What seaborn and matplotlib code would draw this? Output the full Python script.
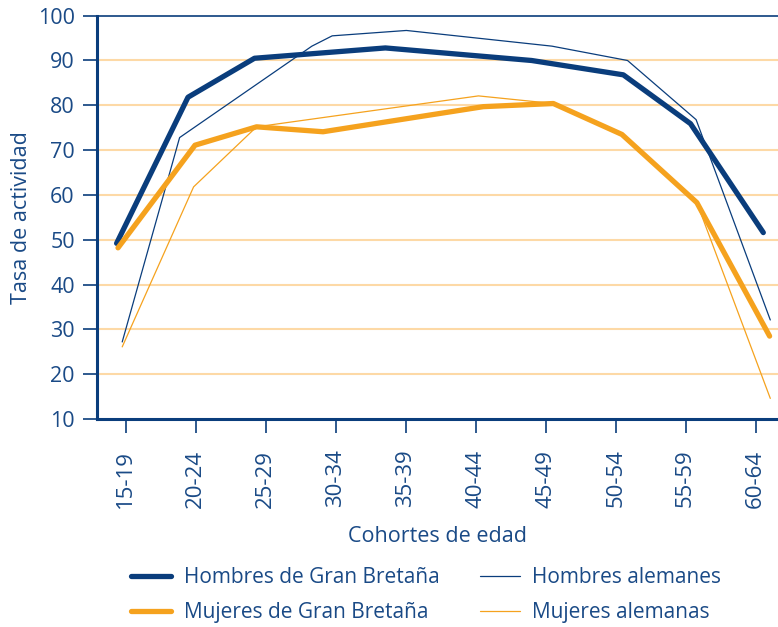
import matplotlib
matplotlib.use("Agg")
import matplotlib.pyplot as plt
import seaborn as sns
import pandas as pd

# cohort labels on the x axis
cohortes = ["15-19", "20-24", "25-29", "30-34", "35-39",
            "40-44", "45-49", "50-54", "55-59", "60-64"]

# each series was drawn at its own (slightly shifted) position along the cohort axis,
# positions are in cohort units (0 = 15-19)
hombres_gb_x = [-0.13, 0.89, 1.84, 3.71, 5.80, 7.11, 8.07, 9.11]
hombres_gb_y = [49.2, 81.8, 90.5, 92.8, 90.0, 86.8, 75.9, 51.6]

hombres_de_x = [-0.05, 0.77, 2.66, 2.95, 4.01, 6.09, 7.17, 8.15, 9.21]
hombres_de_y = [27.2, 72.8, 93.2, 95.5, 96.7, 93.2, 90.0, 76.8, 32.1]

mujeres_gb_x = [-0.11, 0.99, 1.87, 2.82, 5.11, 6.11, 7.09, 8.16, 9.20]
mujeres_gb_y = [48.2, 71.1, 75.2, 74.1, 79.7, 80.4, 73.5, 58.3, 28.5]

mujeres_de_x = [-0.05, 0.97, 1.87, 5.04, 6.11, 7.09, 8.16, 9.21]
mujeres_de_y = [26.1, 61.8, 75.2, 82.1, 80.4, 73.5, 58.3, 14.6]

NAVY = "#0a3d7c"
ORANGE = "#f5a21e"
GRID = "#fdd9a6"
TEXT = "#1a4a86"

sns.set_style("white")
plt.rcParams["font.family"] = ["Open Sans", "DejaVu Sans"]

fig = plt.figure(figsize=(7.78, 6.27), dpi=100)
ax = fig.add_axes([0.1247, 0.3317, 0.8753, 0.6433])

for y in range(20, 100, 10):
    ax.axhline(y, color=GRID, lw=1.5, zorder=0)

series = [
    ("Hombres de Gran Bretaña", hombres_gb_x, hombres_gb_y, NAVY, 3.8),
    ("Mujeres de Gran Bretaña", mujeres_gb_x, mujeres_gb_y, ORANGE, 3.8),
    ("Hombres alemanes", hombres_de_x, hombres_de_y, NAVY, 0.9),
    ("Mujeres alemanas", mujeres_de_x, mujeres_de_y, ORANGE, 0.9),
]
for nombre, xs, ys, color, lw in series:
    df = pd.DataFrame({"pos": xs, "tasa": ys})
    sns.lineplot(data=df, x="pos", y="tasa", ax=ax, color=color, lw=lw,
                 sort=False, label=nombre, legend=False, zorder=3 if lw > 2 else 2)

ax.set_xlim(-0.41, 9.32)
ax.set_ylim(10, 100)
ax.set_yticks(range(10, 101, 10))
ax.set_xticks(range(len(cohortes)))
ax.set_xticklabels(cohortes, rotation=90)

for side in ["left", "bottom"]:
    ax.spines[side].set_linewidth(2.2)
    ax.spines[side].set_color(NAVY)
ax.spines["top"].set_linewidth(1.2)
ax.spines["top"].set_color(NAVY)
ax.spines["right"].set_visible(False)

ax.tick_params(axis="y", direction="out", length=10, width=1.2, color=NAVY,
               labelcolor=TEXT, labelsize=15.5, pad=6, left=True)
ax.tick_params(axis="x", direction="out", length=10, width=1.2, color=NAVY,
               labelcolor=TEXT, labelsize=16, pad=12, bottom=True)

ax.set_xlabel("Cohortes de edad", color=TEXT, fontsize=15.5, labelpad=13)
ax.set_ylabel("Tasa de actividad", color=TEXT, fontsize=15.5, labelpad=4)

handles, labels = ax.get_legend_handles_labels()
leg = fig.legend(handles, labels, ncol=2, loc="center", bbox_to_anchor=(0.548, 0.051),
                 frameon=False, fontsize=15, handlelength=1.92, handletextpad=0.62,
                 columnspacing=1.9, labelspacing=0.66)
for t in leg.get_texts():
    t.set_color(TEXT)

fig.savefig("out.png", dpi=100)
